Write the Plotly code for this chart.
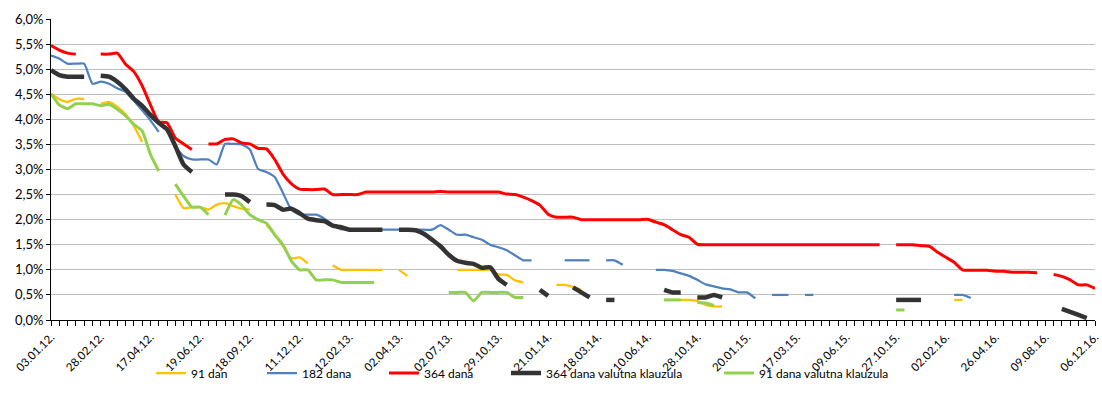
import plotly.graph_objects as go

# Aukcije trezorskih zapisa: kamatne stope po ročnosti (kategorije = datumi aukcija)
N = 127
tick_labels = ["03.01.12.", "28.02.12.", "17.04.12.", "19.06.12.", "18.09.12.", "11.12.12.",
               "12.02.13.", "02.04.13.", "02.07.13.", "29.10.13.", "21.01.14.", "18.03.14.",
               "10.06.14.", "28.10.14.", "20.01.15.", "17.03.15.", "09.06.15.", "27.10.15.",
               "02.02.16.", "26.04.16.", "09.08.16.", "06.12.16."]
label_step = 6


def serija(segmenti):
    # segmenti: lista (pocetni indeks, vrijednosti); ostalo su praznine (nema aukcije)
    s = [None] * N
    for start, vals in segmenti:
        for k, v in enumerate(vals):
            s[start + k] = v
    return s


dan_91 = serija([
    (0, [4.51, 4.40, 4.35, 4.41, 4.41]),
    (6, [4.31, 4.35, 4.25, 4.10, 3.87, 3.55]),
    (15, [2.50, 2.23, 2.25, 2.25, 2.20, 2.30, 2.33, 2.27, 2.22, 2.20]),
    (26, [1.90, 1.70, 1.47, 1.23, 1.25, 1.13]),
    (34, [1.09, 1.00, 1.00, 1.00, 1.00, 1.00, 1.00]),
    (42, [1.00, 0.88]),
    (49, [1.00, 1.00, 1.00, 1.00, 1.00, 0.91, 0.90, 0.79, 0.75]),
    (61, [0.70, 0.70, 0.66, 0.60]),
    (74, [0.40, 0.40, 0.40, 0.40, 0.38, 0.30, 0.27, 0.27]),
    (109, [0.40, 0.40]),
])

dana_182 = serija([
    (0, [5.27, 5.21, 5.11, 5.11, 5.11, 4.71, 4.75, 4.71, 4.62, 4.55, 4.37, 4.18, 3.98, 3.75]),
    (15, [3.45, 3.27, 3.20, 3.20, 3.20, 3.10, 3.51, 3.51, 3.50, 3.40, 3.01, 2.95, 2.85, 2.53,
          2.20, 2.10, 2.10, 2.10, 2.02, 1.90, 1.81, 1.80, 1.80, 1.80, 1.80, 1.80, 1.80, 1.80,
          1.80, 1.80, 1.80, 1.80, 1.89, 1.80, 1.70, 1.70, 1.65, 1.60, 1.50, 1.45, 1.39, 1.29,
          1.19, 1.19]),
    (62, [1.19, 1.19, 1.19, 1.19]),
    (67, [1.19, 1.19, 1.10]),
    (73, [1.00, 1.00, 0.98, 0.93, 0.88, 0.80, 0.71, 0.67, 0.63, 0.61, 0.55, 0.55, 0.43]),
    (87, [0.50, 0.50, 0.50]),
    (91, [0.50, 0.50]),
    (109, [0.50, 0.50, 0.44]),
])

dana_364 = serija([
    (0, [5.47, 5.38, 5.32, 5.30]),
    (6, [5.30, 5.30, 5.32, 5.10, 4.95, 4.67, 4.29, 3.95, 3.93, 3.63, 3.51, 3.40]),
    (19, [3.51, 3.51, 3.60, 3.61, 3.53, 3.51, 3.42, 3.41, 3.20, 2.91, 2.72, 2.61, 2.60,
          2.60, 2.61, 2.50, 2.50, 2.50, 2.50, 2.55, 2.55, 2.55, 2.55, 2.55, 2.55, 2.55, 2.55,
          2.55, 2.56, 2.55, 2.55, 2.55, 2.55, 2.55, 2.55, 2.55, 2.51, 2.50, 2.45, 2.38, 2.29,
          2.11, 2.05, 2.05, 2.05, 2.00, 2.00, 2.00, 2.00, 2.00, 2.00, 2.00, 2.00, 2.01, 1.95,
          1.90, 1.80, 1.70, 1.65, 1.51, 1.50, 1.50, 1.50, 1.50, 1.50, 1.50, 1.50, 1.50, 1.50,
          1.50, 1.50, 1.50, 1.50, 1.50, 1.50, 1.50, 1.50, 1.50, 1.50, 1.50, 1.50, 1.50]),
    (102, [1.50, 1.50, 1.50, 1.48, 1.47, 1.35, 1.25, 1.15, 1.00, 0.99, 0.99, 0.99, 0.97,
           0.97, 0.95, 0.95, 0.95, 0.94]),
    (121, [0.91, 0.87, 0.80, 0.70, 0.70, 0.63]),
])

dana_364_vk = serija([
    (0, [4.98, 4.88, 4.85, 4.85, 4.85]),
    (6, [4.87, 4.85, 4.75, 4.60, 4.41, 4.27, 4.09, 3.93, 3.80, 3.47, 3.10, 2.95]),
    (21, [2.50, 2.50, 2.47, 2.35]),
    (26, [2.30, 2.29, 2.20, 2.22, 2.13, 2.02, 1.99, 1.97, 1.88, 1.85, 1.80, 1.80, 1.80,
          1.80, 1.80]),
    (42, [1.80, 1.80, 1.79, 1.72, 1.60, 1.47, 1.30, 1.18, 1.14, 1.12, 1.04, 1.05, 0.82, 0.70]),
    (59, [0.60, 0.48]),
    (63, [0.65, 0.55, 0.45]),
    (67, [0.40, 0.40]),
    (74, [0.60, 0.55, 0.55]),
    (78, [0.45, 0.45, 0.50, 0.45]),
    (102, [0.40, 0.40, 0.40, 0.40]),
    (122, [0.22, 0.16, 0.10, 0.04]),
])

dana_91_vk = serija([
    (0, [4.51, 4.29, 4.21, 4.31, 4.31, 4.31, 4.27, 4.30, 4.20, 4.07, 3.90, 3.77, 3.30, 2.97]),
    (15, [2.71, 2.47, 2.25, 2.25, 2.10]),
    (21, [2.09, 2.40, 2.29, 2.10, 2.00, 1.93, 1.70, 1.50, 1.18, 1.00, 1.00, 0.80, 0.80,
          0.80, 0.75, 0.75, 0.75, 0.75, 0.75]),
    (48, [0.55, 0.55, 0.55, 0.38, 0.55, 0.55, 0.55, 0.55, 0.45, 0.45]),
    (74, [0.40, 0.40, 0.40]),
    (78, [0.35, 0.34, 0.29]),
    (102, [0.20, 0.20]),
])

serije = [
    ("91 dan", dan_91, "#FFC000", 2.25),
    ("182 dana", dana_182, "#4F81BD", 2.25),
    ("364 dana", dana_364, "#FF0000", 3),
    ("364 dana valutna klauzula", dana_364_vk, "#333333", 4.5),
    ("91 dana valutna klauzula", dana_91_vk, "#92D050", 3),
]

# plot u pikselima: lijevo 51, sirina 1044, vrh 19, dno 320
L, W, T, B = 51, 1044, 19, 320
H = B - T
legend_px = [151, 262, 384, 506, 719]
legend_y = 373

fig = go.Figure()
x = list(range(N))
for k, (ime, y, boja, sirina) in enumerate(serije):
    fig.add_trace(go.Scatter(
        x=x, y=y, name=ime, mode="lines",
        line=dict(color=boja, width=sirina, shape="spline", smoothing=0.5),
        legend="legend" if k == 0 else f"legend{k + 1}",
    ))

tickvals = list(range(N))
ticktext = [tick_labels[i // label_step] if i % label_step == 0 else "" for i in range(N)]

legende = {}
for k, px in enumerate(legend_px):
    key = "legend" if k == 0 else f"legend{k + 1}"
    legende[key] = dict(
        orientation="h", x=(px - L) / W, xanchor="left",
        y=(B - legend_y) / H, yanchor="middle", font=dict(size=12, color="#000"),
        bgcolor="rgba(0,0,0,0)", itemwidth=30,
    )

fig.update_layout(
    width=1102, height=404,
    margin=dict(l=L, r=1102 - L - W, t=T, b=404 - B, autoexpand=False),
    paper_bgcolor="white", plot_bgcolor="white",
    font=dict(family="Lato, 'Open Sans', sans-serif", size=13, color="#000"),
    separators=",.",
    showlegend=True,
    **legende,
)

fig.update_xaxes(
    range=[0, N - 1], tickmode="array", tickvals=tickvals, ticktext=ticktext,
    tickangle=-45, tickfont=dict(size=11.5), automargin=False,
    showline=True, linecolor="#000", linewidth=1,
    ticks="outside", ticklen=5, tickcolor="#000",
    showgrid=False, zeroline=False,
)
fig.update_yaxes(
    range=[0, 6], tickmode="linear", tick0=0, dtick=0.5,
    tickformat=".1f", ticksuffix="%", tickfont=dict(size=13), automargin=False,
    showline=True, linecolor="#000", linewidth=1,
    ticks="outside", ticklen=4, tickcolor="#000",
    showgrid=True, gridcolor="#bdbdbd", gridwidth=1, zeroline=False,
)

# stranica ima zadani rub od 8px; uklanjamo ga da graf stoji u kutu prozora
fig.write_html("out.html", config={"displayModeBar": False},
               post_script="document.body.style.margin='0';")
